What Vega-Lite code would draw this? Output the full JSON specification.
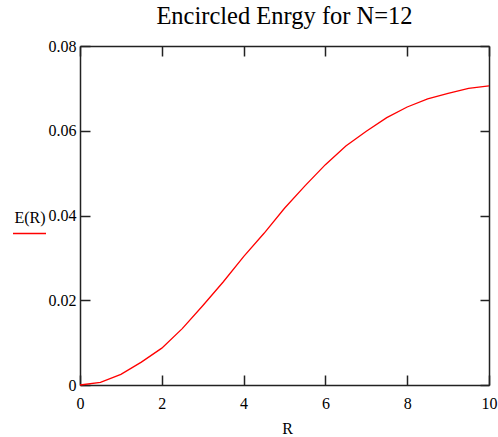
{
  "$schema": "https://vega.github.io/schema/vega-lite/v6.json",
  "width": 409,
  "height": 339,
  "autosize": {"type": "none"},
  "padding": {"left": 80, "top": 46, "right": 9, "bottom": 52},
  "background": "white",
  "config": {
    "font": "'Liberation Serif', 'DejaVu Serif'",
    "view": {"stroke": null},
    "axis": {"grid": false, "domainColor": "#222222", "domainWidth": 1.5, "tickColor": "#222222", "tickWidth": 1.5, "labelColor": "black", "labelFont": "'Liberation Serif', 'DejaVu Serif'", "labelFontSize": 16, "titleFont": "'Liberation Serif', 'DejaVu Serif'", "titleFontSize": 16, "titleFontWeight": "normal", "titleColor": "black", "labelFlush": false, "labelOverlap": false}
  },
  "title": {"text": "Encircled Enrgy for N=12", "font": "'Liberation Serif', 'DejaVu Serif'", "fontSize": 24.5, "fontWeight": "normal", "color": "black", "anchor": "middle", "baseline": "alphabetic", "offset": -10},
  "data": {"values": [
    {"R": 0.0, "E": 0.0, "s": "E(R)"},
    {"R": 0.5, "E": 0.0006, "s": "E(R)"},
    {"R": 1.0, "E": 0.0025, "s": "E(R)"},
    {"R": 1.5, "E": 0.0054, "s": "E(R)"},
    {"R": 2.0, "E": 0.0087, "s": "E(R)"},
    {"R": 2.5, "E": 0.0133, "s": "E(R)"},
    {"R": 3.0, "E": 0.0187, "s": "E(R)"},
    {"R": 3.5, "E": 0.0243, "s": "E(R)"},
    {"R": 4.0, "E": 0.0303, "s": "E(R)"},
    {"R": 4.5, "E": 0.0358, "s": "E(R)"},
    {"R": 5.0, "E": 0.0417, "s": "E(R)"},
    {"R": 5.5, "E": 0.0470, "s": "E(R)"},
    {"R": 6.0, "E": 0.0520, "s": "E(R)"},
    {"R": 6.5, "E": 0.0564, "s": "E(R)"},
    {"R": 7.0, "E": 0.0599, "s": "E(R)"},
    {"R": 7.5, "E": 0.0631, "s": "E(R)"},
    {"R": 8.0, "E": 0.0656, "s": "E(R)"},
    {"R": 8.5, "E": 0.0675, "s": "E(R)"},
    {"R": 9.0, "E": 0.0688, "s": "E(R)"},
    {"R": 9.5, "E": 0.0700, "s": "E(R)"},
    {"R": 10.0, "E": 0.0706, "s": "E(R)"}
  ]},
  "layer": [
    {
      "mark": {"type": "line", "strokeWidth": 1.3},
      "encoding": {
        "x": {"field": "R", "type": "quantitative", "scale": {"domain": [0, 10], "nice": false, "zero": false},
          "axis": {"orient": "bottom", "values": [0, 2, 4, 6, 8, 10], "tickSize": -10, "labelPadding": 20, "title": "R", "titleBaseline": "alphabetic", "titleY": 48, "titleX": 207}},
        "y": {"field": "E", "type": "quantitative", "scale": {"domain": [0, 0.08], "nice": false},
          "axis": {"orient": "left", "values": [0, 0.02, 0.04, 0.06, 0.08], "format": "~g", "tickSize": -10, "labelPadding": 14, "title": "E(R)", "titleAngle": 0, "titleAlign": "left", "titleBaseline": "alphabetic", "titleX": -66, "titleY": 176}},
        "color": {"field": "s", "type": "nominal", "scale": {"range": ["#ff0000"]},
          "legend": {"orient": "none", "legendX": -68, "legendY": 170, "title": null, "symbolType": "stroke", "symbolSize": 1089, "symbolStrokeWidth": 1.3, "labelExpr": "''", "labelFontSize": 1, "padding": 0, "symbolOffset": 0}}
      }
    },
    {
      "mark": {"type": "line", "strokeOpacity": 0},
      "encoding": {
        "x": {"field": "R", "type": "quantitative", "axis": {"orient": "top", "values": [0, 2, 4, 6, 8, 10], "tickSize": -10, "labels": false, "title": null}},
        "y": {"field": "E", "type": "quantitative", "axis": {"orient": "right", "values": [0, 0.02, 0.04, 0.06, 0.08], "tickSize": -9, "labels": false, "title": null}}
      }
    }
  ],
  "resolve": {"axis": {"x": "independent", "y": "independent"}}
}
